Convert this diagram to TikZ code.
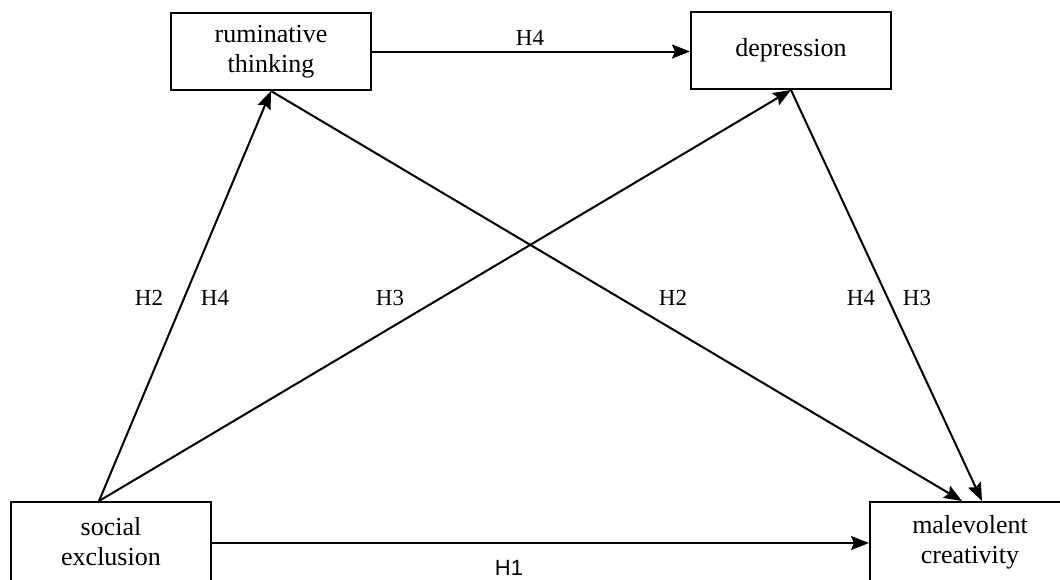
\documentclass[tikz,border=0pt]{standalone}
\usepackage{fontspec}
\setmainfont{Liberation Serif}
\newfontfamily\hsans{Liberation Sans}
\usetikzlibrary{arrows.meta}
\tikzset{
  box/.style={draw, line width=1pt, minimum width=100pt, minimum height=38.5pt, inner sep=0pt, align=center, font=\fontsize{13}{15}\selectfont},
  conn/.style={line width=1pt, -{Stealth[length=9pt,width=7pt,inset=1.5pt]}},
  lab/.style={inner sep=0pt, font=\rmfamily\fontsize{11.5}{13}\selectfont},
  boxtext/.style={inner sep=0pt, align=center, font=\fontsize{13}{15}\selectfont},
}
\begin{document}
\begin{tikzpicture}[x=0.5pt,y=-0.5pt]
\useasboundingbox (0,0) rectangle (1060,579);
\node[box] (rum) at (271,51.5) {ruminative\\thinking};
\node[box] (dep) at (791,50.5) {depression};
\node[box,minimum height=40pt] (soc) at (111,542) {social\\exclusion};
\node[box,minimum height=40pt,minimum width=120pt] (mal) at (990,542) {};
\node[boxtext] (malt) at (970,542) {malevolent\\creativity};
\coordinate (s1) at ([xshift=44.5pt]soc.north west);
\coordinate (m1) at ([xshift=46.5pt]mal.north west);
\coordinate (m2) at ([xshift=56.5pt]mal.north west);
\draw[conn] (rum.east) -- (rum.east -| dep.west);
\draw[conn] (soc.east |- 0,543) -- (mal.west |- 0,543);
\draw[conn] (s1) -- (rum.south);
\draw[conn] (s1) -- (dep.south);
\draw[conn] (rum.south) -- (m1);
\draw[conn] (dep.south) -- (m2);
\node[lab] (l1) at (530,38) {H4};
\node[lab,font=\hsans\fontsize{11}{13}\selectfont] (l2) at (509,568) {H1};
\node[lab] (l3) at (149,298) {H2};
\node[lab] (l4) at (215,298) {H4};
\node[lab] (l5) at (390,298) {H3};
\node[lab] (l6) at (673,298) {H2};
\node[lab] (l7) at (861,298) {H4};
\node[lab] (l8) at (917,298) {H3};
\end{tikzpicture}
\end{document}
